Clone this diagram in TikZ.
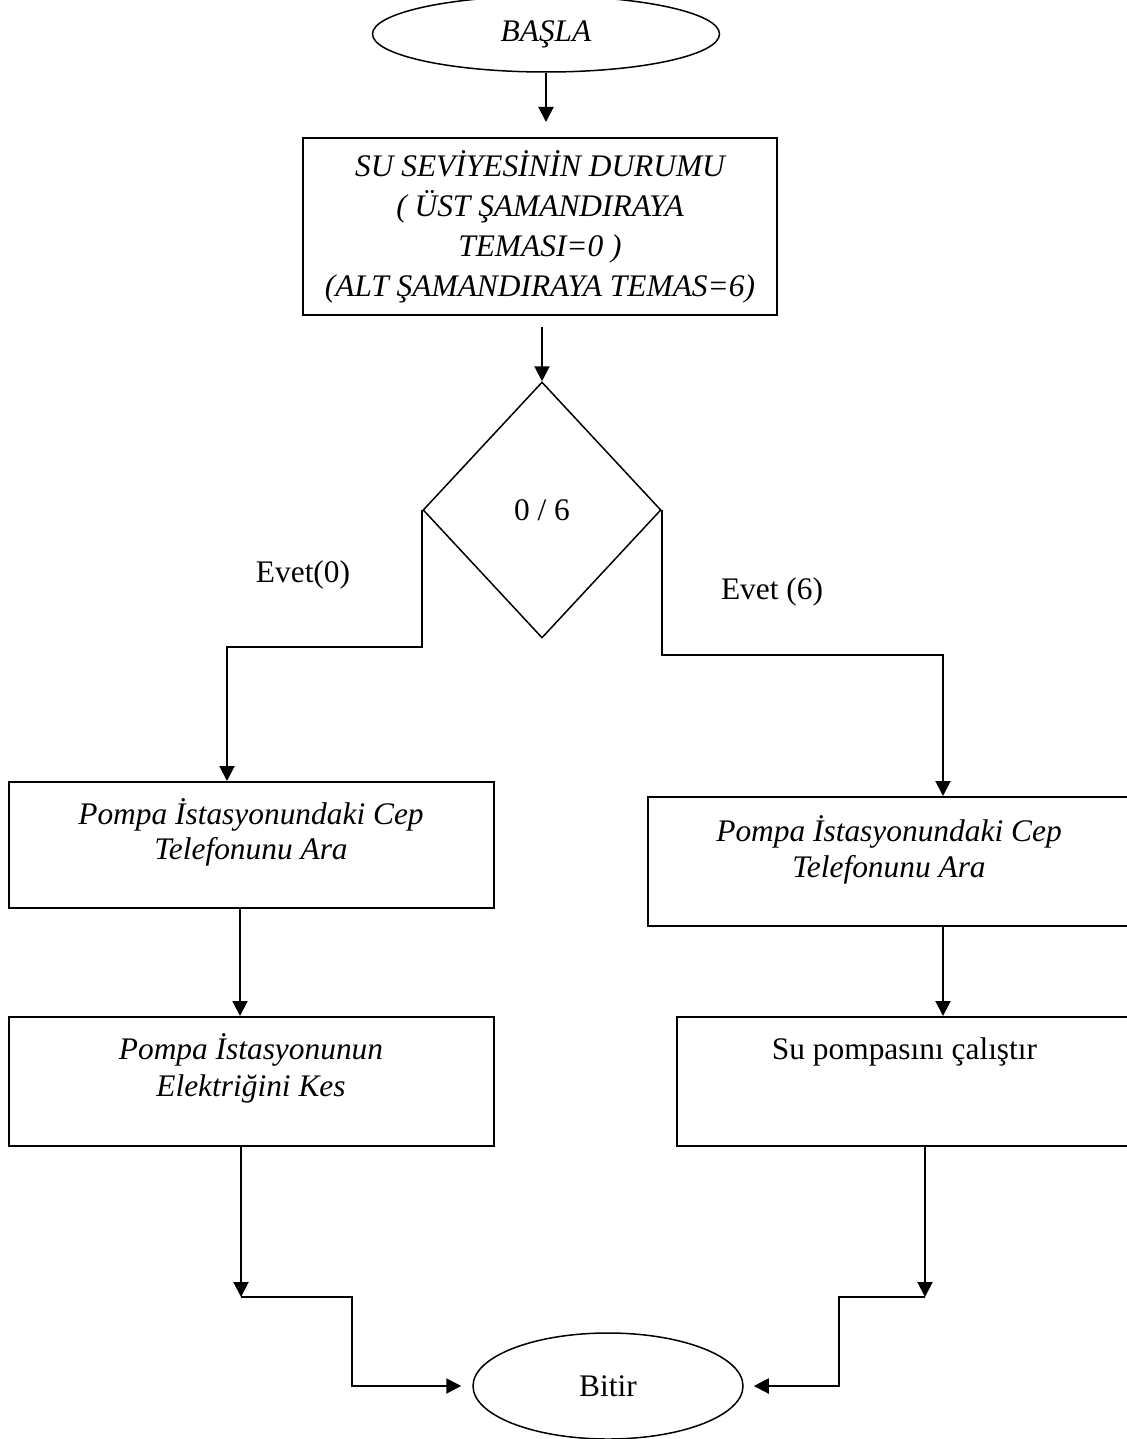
\documentclass[tikz,border=0pt]{standalone}
\usepackage{fontspec}
\setmainfont{Liberation Serif}
\usetikzlibrary{shapes.geometric,arrows.meta,calc}
\begin{document}
\begin{tikzpicture}[x=0.5pt,y=-0.5pt,
  font=\fontsize{15.7}{18}\selectfont,
  ell/.style={draw, ellipse, line width=0.75pt, inner sep=0pt},
  boxs/.style={draw, rectangle, line width=1pt, inner sep=0pt},
  dia/.style={draw, diamond, line width=0.75pt, inner sep=0pt},
  txt/.style={align=center, inner sep=0pt},
  lbl/.style={inner sep=0pt},
  arr/.style={line width=1pt, -{Triangle[width=7.5pt,length=7.5pt]}}]
\useasboundingbox (0,0) rectangle (1126,1439);
\fill[white] (0,0) rectangle (1126,1439);

% nodes
\node[ell, minimum width=173.5pt, minimum height=38pt] (start) at (546,34) {\itshape BAŞLA};
\node[boxs, minimum width=237pt, minimum height=88.5pt, align=center,
      font=\fontsize{15.7}{20}\selectfont\itshape] (b1) at (540,226.5)
  {SU SEVİYESİNİN DURUMU\\( ÜST ŞAMANDIRAYA\\TEMASI=0 )\\(ALT ŞAMANDIRAYA TEMAS=6)};
\node[dia, minimum width=119pt, minimum height=128pt] (d) at (542,510) {0 / 6};

\node[boxs, minimum width=242.5pt, minimum height=63pt] (l1) at (251.5,845) {};
\node[txt, font=\fontsize{15.7}{17.5}\selectfont\itshape] (l1t) at (251,832)
  {Pompa İstasyonundaki Cep\\Telefonunu Ara};
\node[boxs, minimum width=242.5pt, minimum height=64.5pt] (l2) at (251.5,1081.5) {};
\node[txt, font=\fontsize{15.7}{18.5}\selectfont\itshape] (l2t) at (251,1068)
  {Pompa İstasyonunun\\Elektriğini Kes};

\node[boxs, minimum width=241pt, minimum height=64.5pt] (r1) at (889,861.5) {};
\node[txt, font=\fontsize{15.7}{18}\selectfont\itshape] (r1t) at (889,850)
  {Pompa İstasyonundaki Cep\\Telefonunu Ara};
\node[boxs, minimum width=227.5pt, minimum height=64.5pt] (r2) at (904.5,1081.5) {};
\node[txt] (r2t) at (904.5,1052) {Su pompasını çalıştır};

\node[ell, minimum width=135pt, minimum height=53pt] (bitir) at (608,1386) {Bitir};

\node[lbl] (e0) at (303,575) {Evet(0)};
\node[lbl] (e6) at (772,592) {Evet (6)};

% helper coordinates
\coordinate (lk) at (227,647);
\coordinate (rk) at (943,655);
\coordinate (lx) at (240,0);
\coordinate (rx) at (943,0);
\coordinate (lj) at (241,1297);
\coordinate (lm) at (352,1297);
\coordinate (rj) at (925,1297);
\coordinate (rm) at (839,1297);

% connectors
\draw[arr, shorten >=7.5pt] (start.south) -- (start.south |- b1.north);
\draw[arr, shorten <=5.5pt] (d.north |- b1.south) -- (d.north);
\draw[arr] (d.west) |- (lk) -- (lk |- l1.north);
\draw[arr] (d.east) |- (rk) -- (rk |- r1.north);
\draw[arr] (lx |- l1.south) -- (lx |- l2.north);
\draw[arr] (rx |- r1.south) -- (rx |- r2.north);
\draw[arr] (lj |- l2.south) -- (lj);
\draw[arr] (rj |- r2.south) -- (rj);
\draw[arr, shorten >=5.5pt] (lj) -- (lm) |- (bitir.west);
\draw[arr, shorten >=5pt] (rj) -- (rm) |- (bitir.east);
\end{tikzpicture}
\end{document}
